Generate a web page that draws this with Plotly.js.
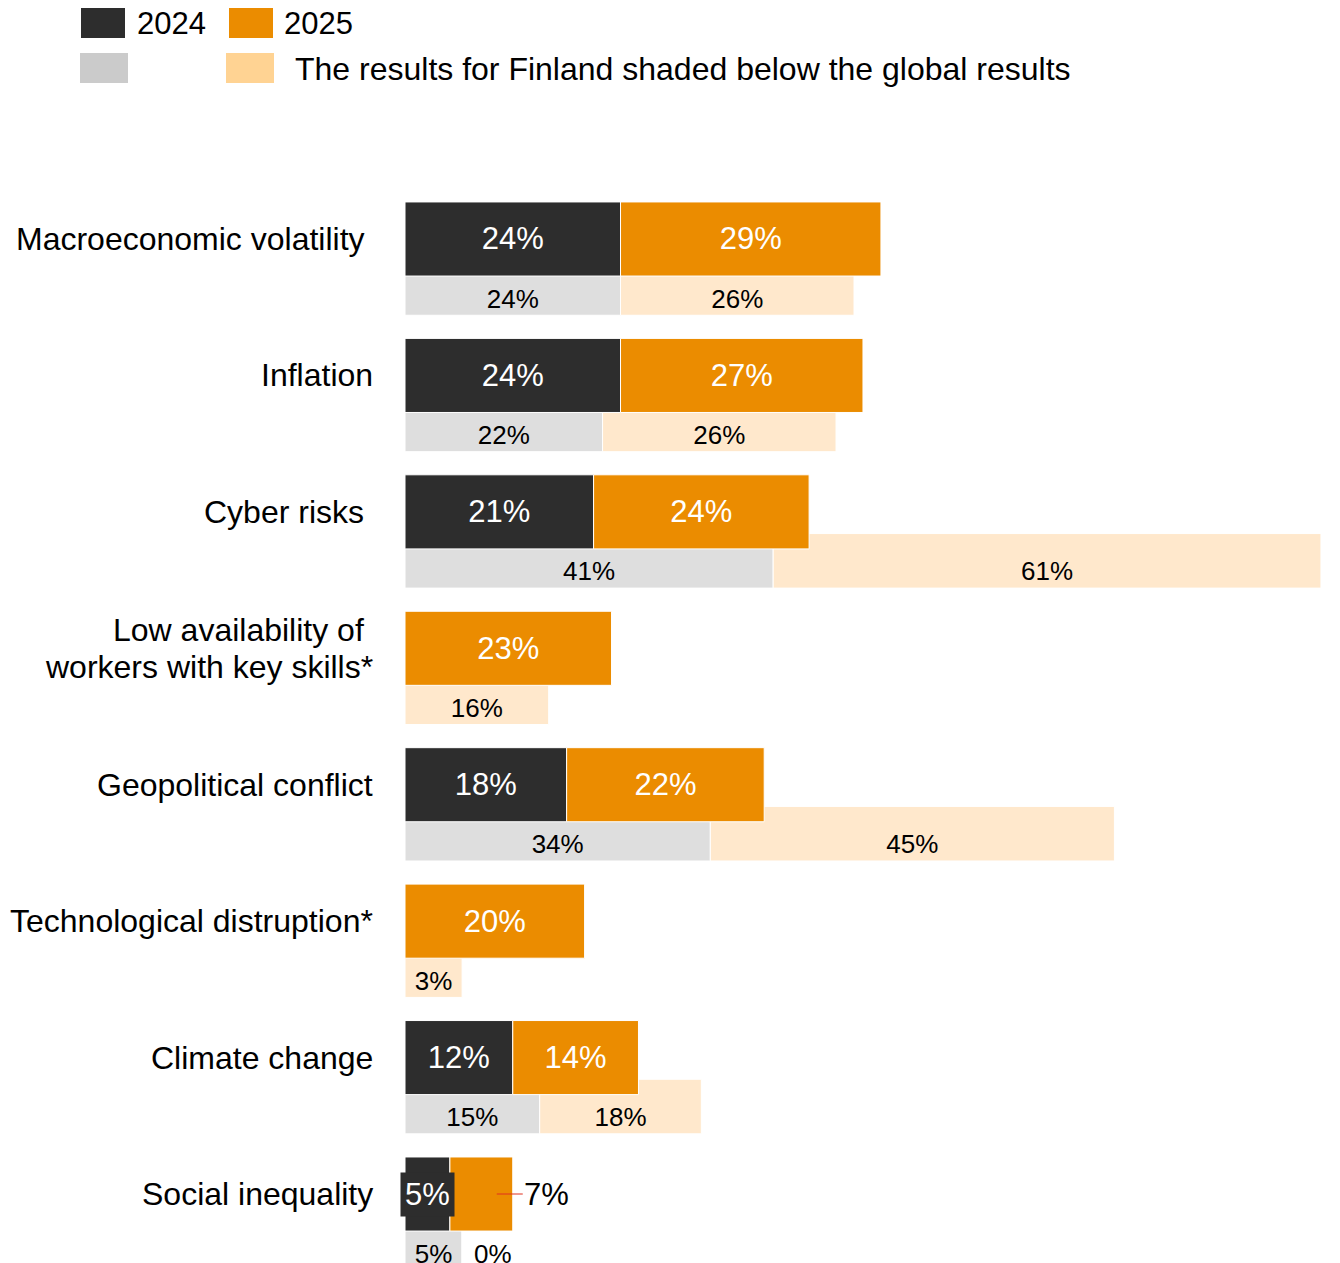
<!DOCTYPE html>
<html><head><meta charset="utf-8">
<script src="https://cdn.plot.ly/plotly-3.0.1.min.js"></script>
<style>html,body{margin:0;padding:0;background:#fff}</style>
</head><body><div id="chart" style="width:1340px;height:1263px"></div>
<script>
const categories = ["Macroeconomic volatility\u00a0", "Inflation", "Cyber risks\u00a0", "Low availability of\u00a0<br>workers with key skills*", "Geopolitical conflict", "Technological distruption*", "Climate change", "Social inequality"];
const global2024 = [24, 24, 21, null, 18, null, 12, 5];
const global2025 = [29, 27, 24, 23, 22, 20, 14, 7];
const finland2024 = [24, 22, 41, null, 34, null, 15, 5];
const finland2025 = [26, 26, 61, 16, 45, 3, 18, 0];
const legendLabels = ["2024", "2025", "The results for Finland shaded below the global results"];

const C_DARK = "#2d2d2d", C_ORANGE = "#eb8c00", C_LGRAY = "#dedede", C_LORANGE = "#ffe8cc";
const FONT = "Liberation Sans, Arial, sans-serif";
const L = 405, R = 0, T = 100, B = 0, W = 1340, H = 1263;
const PW = W - L - R, PH = H - T - B;
const PXPER = 8.98;
const XMAX = PW / PXPER;
const px2x = p => (p - L) / PW;
const px2y = p => (H - B - p) / PH;

const idx = categories.map((_, i) => i);
const yG = idx.map(i => i);
const yF = idx.map(i => i + 0.359);
const yT = idx.map(i => i + 0.455);
const MINW = 6.36;

const f24disp = finland2024.map(v => v == null ? null : Math.max(v, MINW));
const f25base = f24disp.map(v => v == null ? 0 : v);
const f25disp = finland2025.map(v => v == null ? null : (v === 0 ? 0 : Math.max(v, MINW)));
const g25base = global2024.map(v => v == null ? 0 : v);
const FIT = 8;

const lineW = {color: "#ffffff", width: 1};
const traces = [
  {type: "bar", orientation: "h", y: yF, x: f24disp, base: 0, width: 0.40,
   marker: {color: C_LGRAY, line: lineW}, hoverinfo: "skip", showlegend: false},
  {type: "bar", orientation: "h", y: yF, x: f25disp, base: f25base, width: 0.40,
   marker: {color: C_LORANGE, line: lineW}, hoverinfo: "skip", showlegend: false},
  {type: "bar", orientation: "h", y: yG, x: global2024, base: 0, width: 0.543,
   marker: {color: C_DARK, line: lineW}, hoverinfo: "skip", showlegend: false,
   text: global2024.map(v => v == null ? "" : v + "%"),
   textposition: global2024.map(v => v != null && v >= FIT ? "inside" : "none"),
   insidetextanchor: "middle", textangle: 0, constraintext: "none",
   textfont: {color: "#ffffff", size: 31, family: FONT}},
  {type: "bar", orientation: "h", y: yG, x: global2025, base: g25base, width: 0.543,
   marker: {color: C_ORANGE, line: lineW}, hoverinfo: "skip", showlegend: false,
   text: global2025.map(v => v == null ? "" : v + "%"),
   textposition: global2025.map(v => v != null && v >= FIT ? "inside" : "none"),
   insidetextanchor: "middle", textangle: 0, constraintext: "none",
   textfont: {color: "#ffffff", size: 31, family: FONT}}
];

// Finland labels
const ZERO_GAP = 12 / PXPER;
const lx = [], ly = [], lt = [], lp = [];
idx.forEach(i => {
  if (finland2024[i] != null) { lx.push(f24disp[i] / 2); ly.push(yT[i]); lt.push(finland2024[i] + "%"); lp.push("middle center"); }
  if (finland2025[i] != null) {
    if (finland2025[i] === 0) { lx.push(f25base[i] + ZERO_GAP); ly.push(yT[i]); lt.push("0%"); lp.push("middle right"); }
    else { lx.push(f25base[i] + f25disp[i] / 2); ly.push(yT[i]); lt.push(finland2025[i] + "%"); lp.push("middle center"); }
  }
});
traces.push({type: "scatter", mode: "text", x: lx, y: ly, text: lt, textposition: lp,
  textfont: {size: 26, color: "#000000", family: FONT}, hoverinfo: "skip", showlegend: false, cliponaxis: false});

const annotations = [];
const LINE_GAP = 37;
idx.forEach(i => {
  const lines = categories[i].split("<br>");
  lines.forEach((ln, k) => {
    annotations.push({xref: "paper", x: 0, xanchor: "right", xshift: -30, yref: "y", y: yG[i], yanchor: "middle",
      yshift: ((lines.length - 1) / 2 - k) * LINE_GAP,
      text: ln, showarrow: false, align: "right", font: {size: 32, color: "#000", family: FONT}});
  });
  const a = global2024[i];
  if (a != null && a < FIT) {
    annotations.push({x: a / 2, y: yG[i], xref: "x", yref: "y", text: a + "%", showarrow: false,
      bgcolor: C_DARK, borderpad: 4, font: {size: 31, color: "#fff", family: FONT}});
  }
  const b = global2025[i];
  if (b != null && b < FIT) {
    annotations.push({x: g25base[i] + b, y: yG[i], xref: "x", yref: "y", text: b + "%", showarrow: true,
      arrowhead: 0, arrowwidth: 1, arrowcolor: "#e0301e", ax: 50, ay: 0, xshift: -16,
      font: {size: 31, color: "#000", family: FONT}});
  }
});

// legend
const legendItems = [
  {x0: 81, x1: 125, y0: 8, y1: 38, color: C_DARK, label: legendLabels[0], tx: 135, ty: 24, fs: 31},
  {x0: 229, x1: 273, y0: 8, y1: 38, color: C_ORANGE, label: legendLabels[1], tx: 282, ty: 24, fs: 31},
  {x0: 80, x1: 128, y0: 53, y1: 83, color: "#cbcbcb", label: "", tx: 0, ty: 0, fs: 32},
  {x0: 226, x1: 274, y0: 53, y1: 83, color: "#ffd393", label: legendLabels[2], tx: 293, ty: 69, fs: 32}
];
const shapes = [];
legendItems.forEach(it => {
  shapes.push({type: "rect", xref: "paper", yref: "paper", x0: px2x(it.x0), x1: px2x(it.x1),
    y0: px2y(it.y1), y1: px2y(it.y0), fillcolor: it.color, line: {width: 0}});
  if (it.label) annotations.push({xref: "paper", yref: "paper", x: px2x(it.tx), y: px2y(it.ty),
    xanchor: "left", yanchor: "middle", text: it.label, showarrow: false, font: {size: it.fs, color: "#000", family: FONT}});
});

const layout = {
  width: W, height: H, margin: {l: L, r: R, t: T, b: B, pad: 0},
  paper_bgcolor: "#fff", plot_bgcolor: "#fff",
  barmode: "overlay", bargap: 0,
  font: {family: FONT, size: 26, color: "#000"},
  xaxis: {range: [0, XMAX], visible: false, fixedrange: true},
  yaxis: {range: [7.5057, -1.0188], visible: false, fixedrange: true},
  showlegend: false, annotations, shapes
};
Plotly.newPlot("chart", traces, layout, {staticPlot: true, displayModeBar: false});
</script></body></html>
